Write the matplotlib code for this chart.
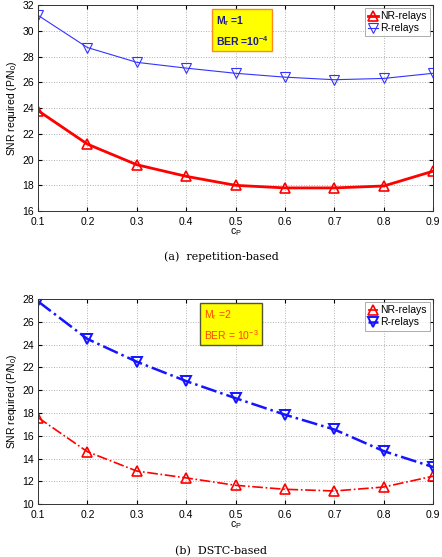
import numpy as np
import matplotlib
matplotlib.use('Agg')
import matplotlib.pyplot as plt

plt.rcParams['font.family'] = ['Liberation Sans', 'DejaVu Sans']

cp = [0.1, 0.2, 0.3, 0.4, 0.5, 0.6, 0.7, 0.8, 0.9]

# (a) repetition-based
nr_a = [23.8, 21.2, 19.6, 18.7, 18.0, 17.8, 17.8, 17.95, 19.1]
r_a = [31.2, 28.7, 27.55, 27.1, 26.7, 26.4, 26.2, 26.3, 26.7]

# (b) DSTC-based
nr_b = [17.6, 14.6, 12.9, 12.3, 11.65, 11.3, 11.15, 11.5, 12.45]
r_b = [27.8, 24.5, 22.5, 20.8, 19.3, 17.85, 16.55, 14.65, 13.25]

fig = plt.figure(figsize=(4.42, 5.57), dpi=100)
ax1 = fig.add_axes([0.086, 0.621, 0.894, 0.370])
ax2 = fig.add_axes([0.086, 0.095, 0.894, 0.368])


def style(ax, ylim, yticks):
    ax.set_xlim(0.1, 0.9)
    ax.set_ylim(*ylim)
    ax.set_xticks(cp)
    ax.set_yticks(yticks)
    ax.tick_params(direction='in', top=True, right=True, labelsize=7.5, length=3)
    ax.tick_params(axis='x', pad=4)
    ax.tick_params(axis='y', pad=3)
    ax.grid(True, linestyle=':', color='#b0b0b0', linewidth=0.7)
    ax.set_xlabel('c$_\\mathregular{P}$', fontsize=7.5, labelpad=0)
    ax.set_ylabel('SNR required (P/N$_\\mathregular{0}$)', fontsize=7.5, labelpad=2)
    for s in ax.spines.values():
        s.set_color('#333333')
        s.set_linewidth(0.7)


def legend(ax):
    leg = ax.legend(loc='upper right', fontsize=7.5, handlelength=1.0, handletextpad=0.2,
                    borderpad=0.3, labelspacing=0.2, fancybox=False, edgecolor='#888888',
                    borderaxespad=0.3)
    leg.get_frame().set_linewidth(0.6)


# top panel
ax1.plot(cp, nr_a, color='red', lw=2.0, marker='^', ms=6.5, mfc='none', mew=1.2, label='NR-relays')
ax1.plot(cp, r_a, color='#3333ff', lw=0.8, marker='v', ms=6.5, mfc='none', mew=0.8, label='R-relays')
style(ax1, (16, 32), range(16, 33, 2))
legend(ax1)
ax1.text(0.45, 0.955, 'M$_\\mathregular{r}$ =1\nBER =10$^\\mathregular{-4}$', transform=ax1.transAxes,
         fontsize=7.5, fontweight='bold', color='#1a1a8c', va='top', ha='left', linespacing=1.5,
         bbox=dict(boxstyle='square,pad=0.35', fc='#ffff00', ec='#ff8c1a', lw=1.0))

# bottom panel
ax2.plot(cp, nr_b, color='red', lw=1.2, ls='-.', marker='^', ms=6.5, mfc='none', mew=1.2, label='NR-relays')
ax2.plot(cp, r_b, color='#1414ff', lw=1.8, ls='-.', marker='v', ms=6.5, mfc='none', mew=1.4, label='R-relays')
style(ax2, (10, 28), range(10, 29, 2))
legend(ax2)
ax2.text(0.42, 0.955, 'M$_\\mathregular{r}$ =2\nBER = 10$^\\mathregular{-3}$', transform=ax2.transAxes,
         fontsize=7.5, color='#ff4500', va='top', ha='left', linespacing=1.5,
         bbox=dict(boxstyle='square,pad=0.35', fc='#ffff00', ec='#555533', lw=1.0))

fig.text(0.5, 1 - 257 / 557, '(a)  repetition-based', ha='center', va='center',
         fontsize=8, family='DejaVu Serif')
fig.text(0.5, 1 - 551 / 557, '(b)  DSTC-based', ha='center', va='center',
         fontsize=8, family='DejaVu Serif')

fig.savefig('out.png', dpi=100)
